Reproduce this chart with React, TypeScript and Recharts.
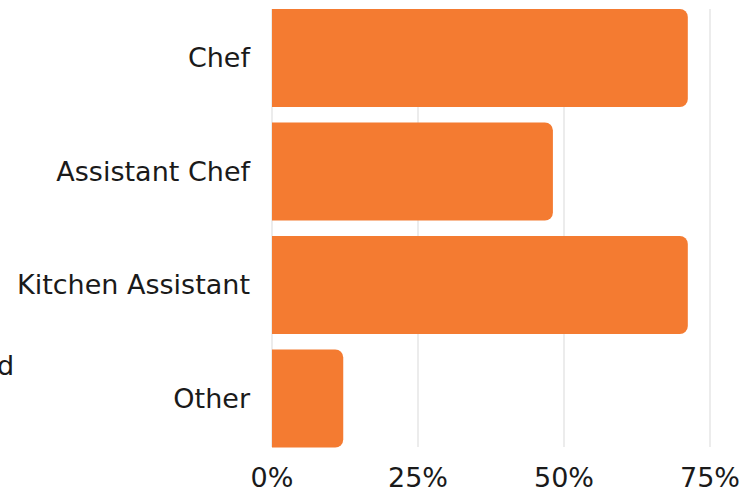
import React from 'react'
import { BarChart, Bar, XAxis, YAxis, CartesianGrid } from 'recharts'

const roles = ['Chef', 'Assistant Chef', 'Kitchen Assistant', 'Other']
const shares = [71.2, 48.1, 71.2, 12.2]
const xTicks = [0, 25, 50, 75]

const data = roles.map((role, i) => ({ role, share: shares[i] }))

const FONT = '"DejaVu Sans", sans-serif'

const App = () => {
  return (
    <div style={{ position: 'absolute', left: 0, top: 0, width: 752, height: 496, overflow: 'hidden', background: '#fff' }}>
      <div
        style={{
          position: 'absolute',
          left: -3,
          top: 350,
          fontFamily: FONT,
          fontSize: 27,
          lineHeight: '32px',
          color: '#1a1a1a',
        }}
      >
        d
      </div>
      <BarChart
        width={752}
        height={496}
        data={data}
        layout="vertical"
        barCategoryGap={8}
        margin={{ top: 9, right: 42, left: 0, bottom: 0 }}
      >
        <CartesianGrid horizontal={false} stroke="#d9d9d9" />
        <XAxis
          type="number"
          domain={[0, 75]}
          ticks={xTicks}
          tickFormatter={(v) => `${v}%`}
          axisLine={false}
          tickLine={false}
          tickSize={0}
          tickMargin={21}
          height={49}
          tick={{ fill: '#1a1a1a', fontSize: 27, fontFamily: FONT }}
        />
        <YAxis
          type="category"
          dataKey="role"
          width={272}
          axisLine={false}
          tickLine={false}
          tickSize={0}
          tickMargin={22}
          padding={{ top: -8, bottom: -8 }}
          tick={{ fill: '#1a1a1a', fontSize: 27, fontFamily: FONT }}
        />
        <Bar dataKey="share" fill="#f47b31" radius={[0, 8, 8, 0]} isAnimationActive={false} />
      </BarChart>
    </div>
  )
}

export default App
